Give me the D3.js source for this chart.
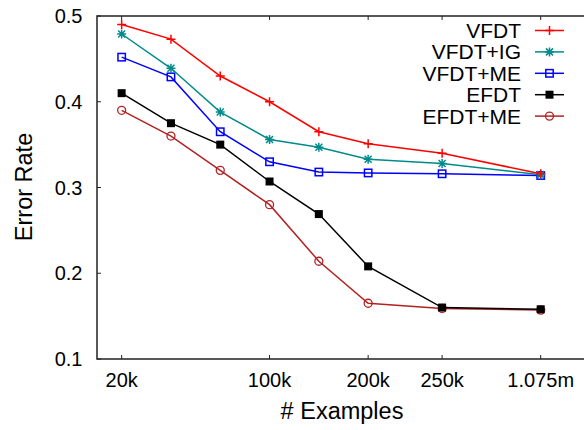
<!DOCTYPE html>
<html>
<head>
<meta charset="utf-8">
<script src="https://cdn.jsdelivr.net/npm/d3@7"></script>
<style>
  body { margin: 0; background: #fff; }
  text { font-family: "Liberation Sans", Arial, sans-serif; fill: #000; }
</style>
</head>
<body>
<svg id="chart" width="584" height="430"></svg>
<script>
// x positions of the sample points (evenly spaced steps, wider gap at the end)
const xPositions = [0, 1, 2, 3, 4, 5, 6.5, 8.5];
const xTickPositions = [0, 3, 5, 6.5, 8.5];
const xTickLabels = ["20k", "100k", "200k", "250k", "1.075m"];
const yTicks = [0.1, 0.2, 0.3, 0.4, 0.5];

const vfdt   = [0.490, 0.473, 0.430, 0.400, 0.365, 0.351, 0.340, 0.316];
const vfdtIG = [0.479, 0.439, 0.388, 0.356, 0.347, 0.333, 0.328, 0.315];
const vfdtME = [0.452, 0.429, 0.365, 0.330, 0.318, 0.317, 0.316, 0.314];
const efdt   = [0.410, 0.375, 0.350, 0.307, 0.269, 0.208, 0.160, 0.158];
const efdtME = [0.390, 0.360, 0.320, 0.280, 0.214, 0.165, 0.159, 0.157];

const series = [
  { name: "VFDT",    values: vfdt,   color: "#ff0000", marker: "plus" },
  { name: "VFDT+IG", values: vfdtIG, color: "#008b8b", marker: "star" },
  { name: "VFDT+ME", values: vfdtME, color: "#0000ff", marker: "square" },
  { name: "EFDT",    values: efdt,   color: "#000000", marker: "filled" },
  { name: "EFDT+ME", values: efdtME, color: "#b22222", marker: "circle" },
];

const svg = d3.select("#chart");
const margin = { top: 16, left: 97, bottom: 359, right: 590 };

const x = d3.scaleLinear().domain([-0.5, 9.5]).range([margin.left, margin.right]);
const y = d3.scaleLinear().domain([0.1, 0.5]).range([margin.bottom, margin.top]);

function drawMarker(g, type, cx, cy, color) {
  if (type === "plus") {
    g.append("path").attr("d", `M${cx - 4.5},${cy}H${cx + 4.5}M${cx},${cy - 4.5}V${cy + 4.5}`)
      .attr("stroke", color).attr("stroke-width", 1.5);
  } else if (type === "star") {
    g.append("path")
      .attr("d", `M${cx - 4.5},${cy}H${cx + 4.5}M${cx},${cy - 4.5}V${cy + 4.5}` +
        `M${cx - 3.5},${cy - 3.5}L${cx + 3.5},${cy + 3.5}M${cx - 3.5},${cy + 3.5}L${cx + 3.5},${cy - 3.5}`)
      .attr("stroke", color).attr("stroke-width", 1.5);
  } else if (type === "square") {
    g.append("rect").attr("x", cx - 3.7).attr("y", cy - 3.7).attr("width", 7.4).attr("height", 7.4)
      .attr("fill", "none").attr("stroke", color).attr("stroke-width", 1.5);
  } else if (type === "filled") {
    g.append("rect").attr("x", cx - 4).attr("y", cy - 4).attr("width", 8).attr("height", 8)
      .attr("fill", color);
  } else if (type === "circle") {
    g.append("circle").attr("cx", cx).attr("cy", cy).attr("r", 4)
      .attr("fill", "none").attr("stroke", color).attr("stroke-width", 1.3);
  }
}

// frame
svg.append("path")
  .attr("d", `M${margin.right},${margin.top}H${margin.left}V${margin.bottom}H${margin.right}`)
  .attr("fill", "none").attr("stroke", "#222").attr("stroke-width", 1.5);

// y ticks + labels
yTicks.forEach((t) => {
  svg.append("line").attr("x1", margin.left).attr("x2", margin.left + 4)
    .attr("y1", y(t)).attr("y2", y(t)).attr("stroke", "#222").attr("stroke-width", 1);
  svg.append("text").attr("x", 82.5).attr("y", y(t) + 7)
    .attr("text-anchor", "end").attr("font-size", 20).text(t.toFixed(1));
});

// x ticks (bottom and mirrored top) + labels
xTickPositions.forEach((p, i) => {
  svg.append("line").attr("x1", x(p)).attr("x2", x(p))
    .attr("y1", margin.bottom).attr("y2", margin.bottom - 4).attr("stroke", "#222").attr("stroke-width", 1);
  svg.append("line").attr("x1", x(p)).attr("x2", x(p))
    .attr("y1", margin.top).attr("y2", margin.top + 4).attr("stroke", "#222").attr("stroke-width", 1);
  svg.append("text").attr("x", x(p)).attr("y", 387)
    .attr("text-anchor", "middle").attr("font-size", 20).text(xTickLabels[i]);
});

// axis titles
svg.append("text").attr("transform", "translate(32,187) rotate(-90)")
  .attr("text-anchor", "middle").attr("font-size", 23.5).text("Error Rate");
svg.append("text").attr("x", 342).attr("y", 419)
  .attr("text-anchor", "middle").attr("font-size", 23.5).text("# Examples");

const line = d3.line().x((d) => x(d[0])).y((d) => y(d[1]));

// draw in reverse so VFDT is on top
[...series].reverse().forEach((s) => {
  const pts = s.values.map((v, i) => [xPositions[i], v]);
  const g = svg.append("g");
  g.append("path").datum(pts).attr("d", line)
    .attr("fill", "none").attr("stroke", s.color).attr("stroke-width", 1.5);
  pts.forEach((p) => drawMarker(g, s.marker, x(p[0]), y(p[1]), s.color));
});

// legend
series.forEach((s, i) => {
  const ly = 30.5 + i * 21.4;
  svg.append("text").attr("x", 521).attr("y", ly + 7.5)
    .attr("text-anchor", "end").attr("font-size", 21).text(s.name);
  const g = svg.append("g");
  g.append("line").attr("x1", 535).attr("x2", 564).attr("y1", ly).attr("y2", ly)
    .attr("stroke", s.color).attr("stroke-width", 1.5);
  drawMarker(g, s.marker, 549.5, ly, s.color);
});
</script>
</body>
</html>
